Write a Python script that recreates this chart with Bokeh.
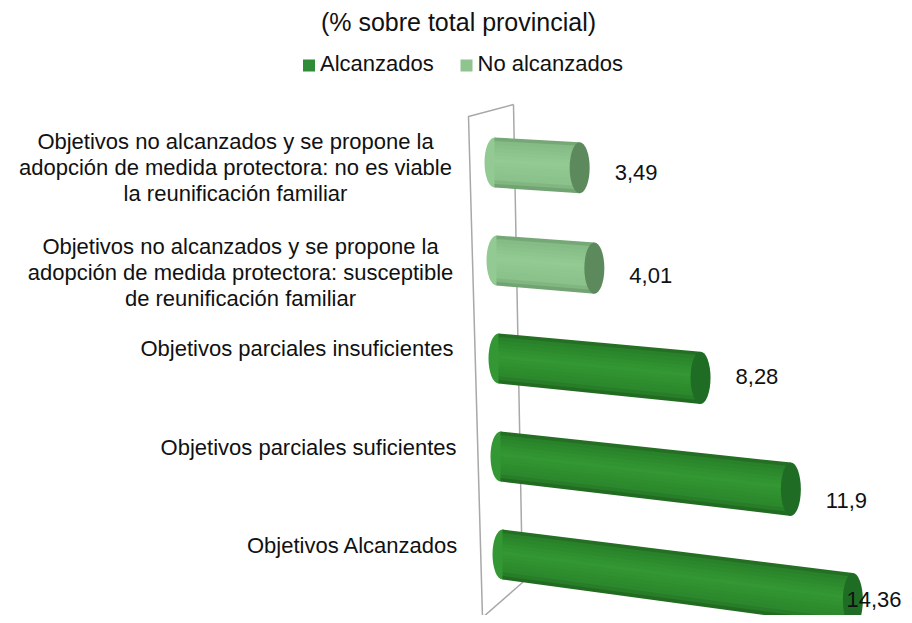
from bokeh.plotting import figure
from bokeh.models import Range1d
from bokeh.embed import file_html
from bokeh.resources import INLINE
from bokeh.core.properties import value as pv

# ---------------- data ----------------
categories = [
    "Objetivos no alcanzados y se propone la\nadopción de medida protectora: no es viable\nla reunificación familiar",
    "Objetivos no alcanzados y se propone la\nadopción de medida protectora: susceptible\nde reunificación familiar",
    "Objetivos parciales insuficientes",
    "Objetivos parciales suficientes",
    "Objetivos Alcanzados",
]
values = [3.49, 4.01, 8.28, 11.9, 14.36]
groups = ["No alcanzados", "No alcanzados", "Alcanzados", "Alcanzados", "Alcanzados"]
series = ["Alcanzados", "No alcanzados"]
title_text = "(% sobre total provincial)"

# ---------------- layout / style ----------------
W, H = 904, 615
S = 24.4          # pixels per value unit
X0 = 494          # x of value 0 (top row)
FONT = pv("Liberation Sans")
TXT = "#111111"

def px2x(px):
    return (px - X0) / S

def hexrgb(h):
    h = h.lstrip("#")
    return tuple(int(h[i:i + 2], 16) for i in (0, 2, 4))

def rgbhex(c):
    return "#%02x%02x%02x" % tuple(max(0, min(255, int(round(v)))) for v in c)

def ramp(stops, f):
    for (f0, c0), (f1, c1) in zip(stops, stops[1:]):
        if f0 <= f <= f1:
            t = (f - f0) / (f1 - f0) if f1 > f0 else 0
            a, b = hexrgb(c0), hexrgb(c1)
            return rgbhex([a[k] + (b[k] - a[k]) * t for k in range(3)])
    return stops[-1][1]

style = {
    "Alcanzados": dict(
        stops=[(0, "#1f5e1f"), (0.07, "#288029"), (0.45, "#339833"), (0.85, "#2b872b"), (1, "#1f641f")],
        cap="#1f6d25", legend="#2e8b36"),
    "No alcanzados": dict(
        stops=[(0, "#68976a"), (0.07, "#84b984"), (0.45, "#93ca93"), (0.85, "#8ac18a"), (1, "#6b9a6b")],
        cap="#5d8a5d", legend="#8fc48f"),
}

p = figure(width=W, height=H, output_backend="svg", toolbar_location=None,
           x_range=Range1d(px2x(0), px2x(W)), y_range=Range1d(H, 0),
           x_axis_location=None, y_axis_location=None, min_border=0)
p.grid.visible = False
p.outline_line_color = None
p.background_fill_color = "white"
p.border_fill_color = "white"

# ---------------- back wall ----------------
wall_x = [px2x(513), px2x(468), px2x(482), px2x(522), px2x(513)]
wall_y = [104, 116, 617, 582, 104]
p.line(wall_x, wall_y, line_color="#a8a8a8", line_width=1.5)

# ---------------- cylinders ----------------
NSTRIP = 14
for i, (v, g) in enumerate(zip(values, groups)):
    st = style[g]
    x0 = 2.0 * i / S                 # slight perspective shift of the base
    topL = 137 + 98 * i
    hL = 50.0
    slope = 1.35 + 0.42 * i          # px drop per value unit
    topR = topL + slope * v
    hR = hL + 0.28 * v
    x1 = x0 + v
    # left rounded end
    p.ellipse(x=[x0], y=[topL + hL / 2], width=20, height=hL,
              width_units="screen", height_units="screen",
              fill_color=ramp(st["stops"], 0.45), line_color=None)
    xs, ys, cols = [], [], []
    for k in range(NSTRIP):
        f0, f1 = k / NSTRIP, (k + 1) / NSTRIP
        e = 0.0 if k == NSTRIP - 1 else 1.0   # overlap to hide seams
        xs.append([x0, x1, x1, x0])
        ys.append([topL + f0 * hL, topR + f0 * hR, topR + f1 * hR + e, topL + f1 * hL + e])
        cols.append(ramp(st["stops"], (f0 + f1) / 2))
    p.patches(xs, ys, fill_color=cols, line_color=None)
    # right cap
    p.ellipse(x=[x1], y=[topR + hR / 2], width=20, height=hR,
              width_units="screen", height_units="screen",
              fill_color=st["cap"], line_color=None)

# ---------------- value labels ----------------
label_dy = [5, 7, -1, 11, -1]
for i, v in enumerate(values):
    slope = 1.35 + 0.42 * i
    topR = 137 + 98 * i + slope * v
    hR = 50.0 + 0.28 * v
    lx = min(X0 + 2 * i + v * S + 35, W - 58)
    p.text(x=[px2x(lx)], y=[topR + hR / 2 + label_dy[i]], text=[("%g" % v).replace(".", ",")],
           text_font=FONT, text_font_size="22px", text_color=TXT,
           text_align="left", text_baseline="middle")

# ---------------- category labels ----------------
label_center = [235, 240, None, None, None]
label_right = [None, None, 453, 456, 458]
label_y = [167, 272, 348, 447, 545]
LINE_H = 26
for i, cat in enumerate(categories):
    lines = cat.split("\n")
    n = len(lines)
    for j, ln in enumerate(lines):
        yy = label_y[i] + (j - (n - 1) / 2) * LINE_H
        if label_center[i] is not None:
            p.text(x=[px2x(label_center[i])], y=[yy], text=[ln], text_font=FONT,
                   text_font_size="22px", text_color=TXT, text_align="center", text_baseline="middle")
        else:
            p.text(x=[px2x(label_right[i])], y=[yy], text=[ln], text_font=FONT,
                   text_font_size="22px", text_color=TXT, text_align="right", text_baseline="middle")

# ---------------- title ----------------
p.text(x=[px2x(458)], y=[21], text=[title_text], text_font=FONT, text_font_size="25px",
       text_color=TXT, text_align="center", text_baseline="middle")

# ---------------- legend ----------------
leg_sq_x = [308.5, 466]
for sx, name in zip(leg_sq_x, series):
    p.scatter(x=[px2x(sx)], y=[65], marker="square", size=12,
              fill_color=style[name]["legend"], line_color=None)
    p.text(x=[px2x(sx + 11)], y=[63], text=[name], text_font=FONT, text_font_size="22px",
           text_color=TXT, text_align="left", text_baseline="middle")

open("out.html", "w").write(file_html(p, INLINE))
